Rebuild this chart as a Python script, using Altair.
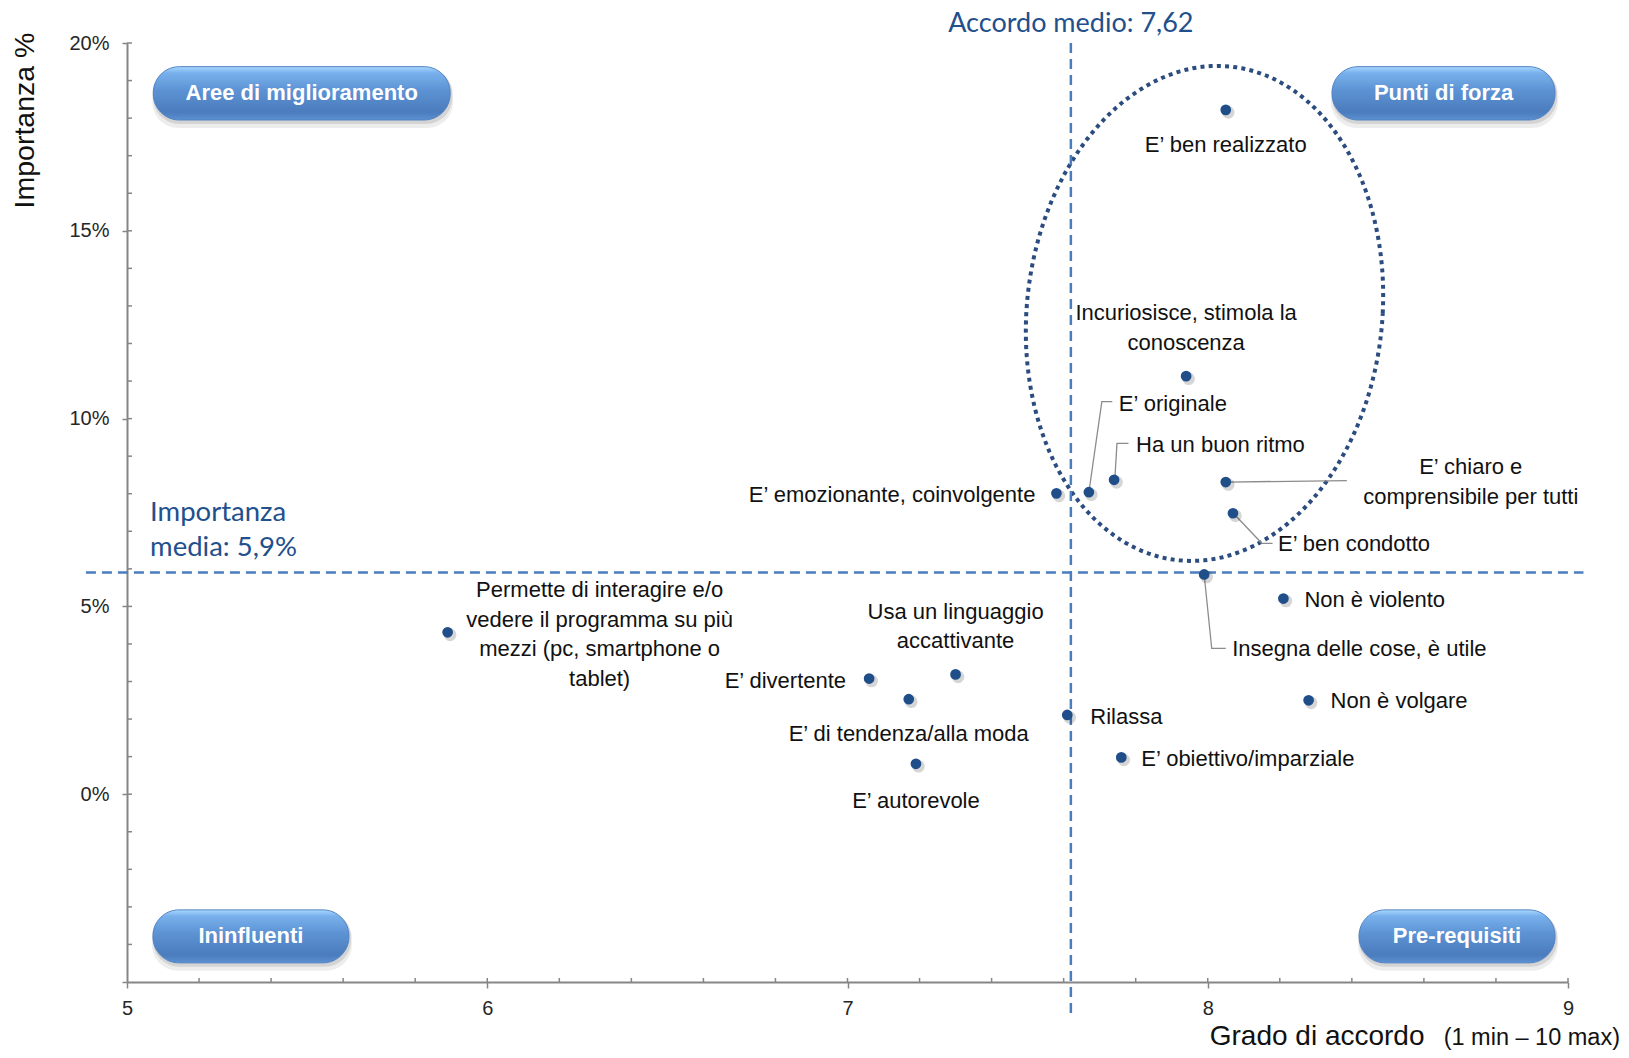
import altair as alt
import pandas as pd

# ----------------------------- data -----------------------------
ATTRIBUTES = [
    "E’ ben realizzato",
    "Incuriosisce, stimola la\nconoscenza",
    "E’ originale",
    "Ha un buon ritmo",
    "E’ emozionante, coinvolgente",
    "E’ chiaro e\ncomprensibile per tutti",
    "E’ ben condotto",
    "Insegna delle cose, è utile",
    "Non è violento",
    "Non è volgare",
    "E’ obiettivo/imparziale",
    "Rilassa",
    "E’ autorevole",
    "E’ di tendenza/alla moda",
    "E’ divertente",
    "Usa un linguaggio\naccattivante",
    "Permette di interagire e/o\nvedere il programma su più\nmezzi (pc, smartphone o\ntablet)",
]
ACCORDO = [8.05, 7.94, 7.67, 7.74, 7.58, 8.05, 8.07, 7.99, 8.21, 8.28,
           7.76, 7.61, 7.19, 7.17, 7.06, 7.30, 5.89]
IMPORTANZA = [18.22, 11.13, 8.04, 8.37, 8.01, 8.31, 7.48, 5.85, 5.21, 2.50,
              0.98, 2.11, 0.81, 2.53, 3.08, 3.19, 4.31]

ACCORDO_MEDIO = 7.62
IMPORTANZA_MEDIA = 5.9

X_TICKS = [5, 6, 7, 8, 9]
Y_TICKS = [-5, 0, 5, 10, 15, 20]
X_MINOR = [5.2, 5.4, 5.6, 5.8, 6.0, 6.2, 6.4, 6.6, 6.8, 7.0, 7.2, 7.4, 7.6,
           7.8, 8.0, 8.2, 8.4, 8.6, 8.8, 9.0]
Y_MINOR = list(range(-4, 21))

QUADRANTS = ["Aree di miglioramento", "Punti di forza", "Ininfluenti", "Pre-requisiti"]

# ------------------------ label placement (style, pixels) ------------------------
LABEL_ALIGN = ["center", "center", "left", "left", "right", "center", "left", "left",
               "left", "left", "left", "left", "center", "center", "right", "center", "center"]
LABEL_DX = [0, 0, 30, 22, -21, 245, 45, 28, 21, 22, 20, 23, 0, 0, -23, 0, 152]
LABEL_DY = [35, -48, -88, -35, 2, 0, 31, 75, 1, 1, 2, 2, 37, 35, 2, -48, 2]
LINE_HEIGHT = 29.5

# leader lines (annotation geometry, in data units)
LEADER_ID = [0, 0, 0, 1, 1, 1, 2, 2, 3, 3, 3, 4, 4, 4]
LEADER_X = [7.670, 7.706, 7.735, 7.742, 7.748, 7.780, 8.050, 8.386,
            8.071, 8.150, 8.180, 7.990, 8.011, 8.050]
LEADER_Y = [8.04, 10.45, 10.45, 8.37, 9.34, 9.34, 8.31, 8.35,
            7.48, 6.68, 6.68, 5.85, 3.88, 3.88]

# quadrant pill boxes (annotation geometry, in data units)
PILL_X1 = [5.073, 8.345, 5.072, 8.420]
PILL_X2 = [5.897, 8.964, 5.616, 8.964]
PILL_Y1 = [19.37, 19.37, -3.08, -3.08]
PILL_Y2 = [17.95, 17.95, -4.49, -4.49]

# ellipse around the "Punti di forza" group
ELL_CX, ELL_CY, ELL_RX, ELL_RY, ELL_SHEAR = 7.991, 12.80, 0.4947, 6.59, 0.036

# ----------------------------- style -----------------------------
W, H = 1441, 939
X_DOMAIN = [5, 9]
Y_DOMAIN = [-5, 20]
PX_PER_X = W / (X_DOMAIN[1] - X_DOMAIN[0])
PX_PER_Y = H / (Y_DOMAIN[1] - Y_DOMAIN[0])

FONT = "Liberation Sans"
BLUE_FONT = "Lato"
POINT_COLOR = "#1F4E89"
DASH_COLOR = "#4A7EBF"
BLUE_TEXT = "#22508C"
AXIS_GRAY = "#868686"
ELL_COLOR = "#2B4C7E"

XS = alt.Scale(domain=X_DOMAIN, nice=False, zero=False)
YS = alt.Scale(domain=Y_DOMAIN, nice=False, zero=False)


def xq(f):
    return alt.X(f, type="quantitative", scale=XS)


def yq(f):
    return alt.Y(f, type="quantitative", scale=YS)


pts = pd.DataFrame({
    "attr": ATTRIBUTES, "accordo": ACCORDO, "importanza": IMPORTANZA,
    "align": LABEL_ALIGN, "dx": LABEL_DX, "dy": LABEL_DY,
})

x_axis = alt.Axis(values=X_TICKS, format="d", title=None, grid=False,
                  domainColor=AXIS_GRAY, domainWidth=2, tickColor=AXIS_GRAY,
                  tickWidth=1.5, tickSize=6, labelFont=FONT, labelFontSize=20,
                  labelColor="#262626", labelPadding=10, labelFlush=False)
y_axis = alt.Axis(values=Y_TICKS, labelExpr="datum.value < 0 ? '' : datum.value + '%'",
                  title="Importanza %", titleFont=FONT, titleFontSize=28.5,
                  titleFontWeight="normal", titleColor="#111111", titleAngle=270,
                  titleX=-102.5, titleY=77, titleAlign="center", titleBaseline="middle",
                  grid=False, domainColor=AXIS_GRAY, domainWidth=2, tickColor=AXIS_GRAY,
                  tickWidth=1.5, tickSize=5, labelFont=FONT, labelFontSize=20,
                  labelColor="#262626", labelPadding=13, labelFlush=False)

# axes carrier layer
axes_layer = alt.Chart(pts).mark_point(opacity=0).encode(
    x=alt.X("accordo:Q", scale=XS, axis=x_axis),
    y=alt.Y("importanza:Q", scale=YS, axis=y_axis),
)

# ellipse
ellipse = alt.Chart(alt.sequence(0, 362, 2, as_="t")).transform_calculate(
    ex=f"{ELL_CX} + {ELL_RX} * cos(datum.t * PI / 180) + {ELL_SHEAR} * sin(datum.t * PI / 180)",
    ey=f"{ELL_CY} + {ELL_RY} * sin(datum.t * PI / 180)",
).mark_line(color=ELL_COLOR, strokeWidth=4, strokeDash=[4, 4.2], strokeCap="butt").encode(
    x=xq("ex"), y=yq("ey"), order="t:Q")

# mean lines
hline_df = pd.DataFrame({"x": [4.886], "x2": [9.043], "y": [IMPORTANZA_MEDIA]})
hline = alt.Chart(hline_df).mark_rule(color=DASH_COLOR, strokeWidth=2.5, strokeDash=[10, 6]).encode(
    x=xq("x"), x2="x2:Q", y=yq("y"))
vline_df = pd.DataFrame({"x": [ACCORDO_MEDIO], "y": [20.0], "y2": [-5.88]})
vline = alt.Chart(vline_df).mark_rule(color=DASH_COLOR, strokeWidth=2.5, strokeDash=[10, 6]).encode(
    x=xq("x"), y=yq("y"), y2="y2:Q")

# leaders
lead_df = pd.DataFrame({"id": LEADER_ID, "x": LEADER_X, "y": LEADER_Y,
                        "o": list(range(len(LEADER_X)))})
leaders = alt.Chart(lead_df).mark_line(color="#8C8C8C", strokeWidth=1.3).encode(
    x=xq("x"), y=yq("y"), detail="id:N", order="o:Q")

# points
pshadow = alt.Chart(pts).mark_circle(size=160, color="#000000", opacity=0.16,
                                     xOffset=2.5, yOffset=2.5).encode(
    x=xq("accordo"), y=yq("importanza"))
points = alt.Chart(pts).mark_circle(size=115, color=POINT_COLOR, opacity=1).encode(
    x=xq("accordo"), y=yq("importanza"))

labels = []
for al in ["left", "center", "right"]:
    labels.append(
        alt.Chart(pts).transform_filter(alt.datum.align == al).transform_calculate(
            nl="length(split(datum.attr, '\\n'))",
        ).transform_calculate(
            lx=f"datum.accordo + datum.dx / {PX_PER_X}",
            ly=f"datum.importanza - (datum.dy - (datum.nl - 1) * {LINE_HEIGHT} / 2) / {PX_PER_Y}",
        ).mark_text(
            align=al, baseline="middle", font=FONT, fontSize=22, lineBreak="\n",
            lineHeight=LINE_HEIGHT, color="#111111").encode(
            x=xq("lx"), y=yq("ly"), text="attr:N")
    )

# pills
pill_df = pd.DataFrame({"label": QUADRANTS, "x1": PILL_X1, "x2": PILL_X2,
                        "y1": PILL_Y1, "y2": PILL_Y2})
pill_shadow1 = alt.Chart(pill_df).mark_rect(
    cornerRadius=26, color="#000000", opacity=0.07,
    xOffset=-1, x2Offset=3, yOffset=2, y2Offset=8).encode(
    x=xq("x1"), x2="x2:Q", y=yq("y1"), y2="y2:Q")
pill_shadow2 = alt.Chart(pill_df).mark_rect(
    cornerRadius=26, color="#000000", opacity=0.10,
    xOffset=0, x2Offset=2, yOffset=1, y2Offset=4).encode(
    x=xq("x1"), x2="x2:Q", y=yq("y1"), y2="y2:Q")
grad = alt.LinearGradient(
    gradient="linear",
    stops=[alt.GradientStop(color="#A8D8FF", offset=0),
           alt.GradientStop(color="#78B0EC", offset=0.12),
           alt.GradientStop(color="#5C92D3", offset=0.45),
           alt.GradientStop(color="#4B7CBD", offset=0.85),
           alt.GradientStop(color="#5B90D2", offset=1)],
    x1=0, x2=0, y1=0, y2=1)
pills = alt.Chart(pill_df).mark_rect(cornerRadius=26, fill=grad, stroke="#4F82C3",
                                     strokeWidth=1).encode(
    x=xq("x1"), x2="x2:Q", y=yq("y1"), y2="y2:Q")
pill_text = alt.Chart(pill_df).transform_calculate(
    cx="(datum.x1 + datum.x2) / 2", cy="(datum.y1 + datum.y2) / 2"
).mark_text(font=FONT, fontSize=22, fontWeight="bold", color="white",
            align="center", baseline="middle").encode(
    x=xq("cx"), y=yq("cy"), text="label:N")

# blue annotations
acc_df = pd.DataFrame({"t": ["Accordo medio: 7,62"], "x": [ACCORDO_MEDIO], "y": [20.30]})
acc_text = alt.Chart(acc_df).mark_text(font=BLUE_FONT, fontSize=27, color=BLUE_TEXT,
                                       align="center", baseline="alphabetic").encode(
    x=xq("x"), y=yq("y"), text="t:N")
imp_df = pd.DataFrame({"t": ["Importanza\nmedia: 5,9%"], "x": [5.064], "y": [7.28]})
imp_text = alt.Chart(imp_df).mark_text(font=BLUE_FONT, fontSize=27.5, color=BLUE_TEXT,
                                       align="left", baseline="alphabetic",
                                       lineBreak="\n", lineHeight=35).encode(
    x=xq("x"), y=yq("y"), text="t:N")

# x axis title (two sizes)
xt1_df = pd.DataFrame({"t": ["Grado di accordo"], "x": [8.0055], "y": [-6.678]})
xt1 = alt.Chart(xt1_df).mark_text(font=FONT, fontSize=28, color="#111111",
                                  align="left", baseline="alphabetic").encode(
    x=xq("x"), y=yq("y"), text="t:N")
xt2_df = pd.DataFrame({"t": ["(1 min – 10 max)"], "x": [9.1443], "y": [-6.678]})
xt2 = alt.Chart(xt2_df).mark_text(font=FONT, fontSize=23.5, color="#111111",
                                  align="right", baseline="alphabetic").encode(
    x=xq("x"), y=yq("y"), text="t:N")

# inner (minor) ticks
xmin_df = pd.DataFrame({"v": X_MINOR, "base": [-5] * len(X_MINOR)})
xminor = alt.Chart(xmin_df).mark_rule(color=AXIS_GRAY, strokeWidth=1.5, y2Offset=-4).encode(
    x=xq("v"), y=yq("base"), y2="base:Q")
ymin_df = pd.DataFrame({"v": Y_MINOR, "base": [5] * len(Y_MINOR)})
yminor = alt.Chart(ymin_df).mark_rule(color=AXIS_GRAY, strokeWidth=1.5, x2Offset=5).encode(
    y=yq("v"), x=xq("base"), x2="base:Q")

chart = alt.layer(
    axes_layer, ellipse, hline, vline, leaders, pshadow, points,
    *labels, pill_shadow1, pill_shadow2, pills, pill_text,
    acc_text, imp_text, xt1, xt2, xminor, yminor,
).properties(
    width=W, height=H,
    padding={"left": 119, "top": 35, "right": 53, "bottom": 68},
    autosize=alt.AutoSizeParams(type="none"),
).configure_view(stroke=None)

chart.save("out.html", embed_options={"renderer": "svg", "actions": False})
